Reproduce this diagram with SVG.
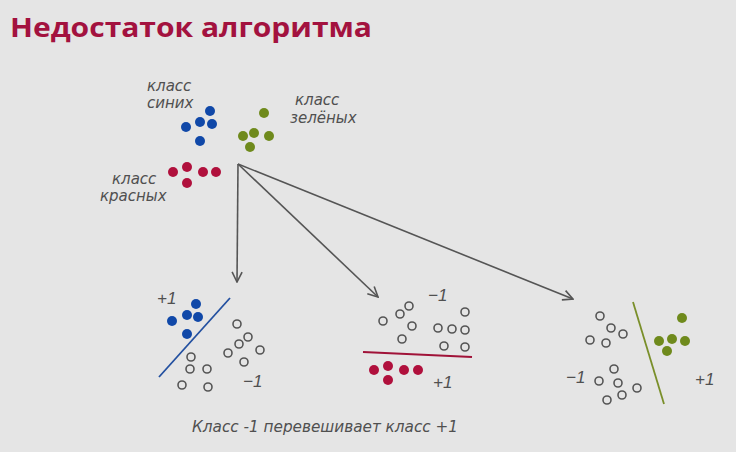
<svg xmlns="http://www.w3.org/2000/svg" width="736" height="452" viewBox="0 0 736 452">
  <style>
    .title { font-family: "Open Sans", "Liberation Sans", sans-serif; font-weight: bold; font-size: 26px; fill: #a3123f; }
    .hand { font-family: "DejaVu Sans", "Liberation Sans", sans-serif; font-style: italic; font-size: 15px; fill: #505050; }
    .num { font-family: "Liberation Sans", sans-serif; font-style: italic; font-size: 17px; fill: #505050; }
    .blue { fill: #1048a8; }
    .green { fill: #6f8a1c; }
    .red { fill: #b0103c; }
    .hollow { fill: none; stroke: #555; stroke-width: 1.6; }
    .conn { stroke: #555; stroke-width: 1.6; fill: none; }
  </style>
  <defs>
    <marker id="vhead" viewBox="0 0 12 12" refX="11" refY="6" markerWidth="12" markerHeight="12" markerUnits="userSpaceOnUse" orient="auto">
      <polyline points="1,1 11,6 1,11" fill="none" stroke="#555" stroke-width="1.6"/>
    </marker>
  </defs>
  <rect width="736" height="452" fill="#e5e5e5"/>

  <text class="title" x="10" y="37" textLength="362" lengthAdjust="spacingAndGlyphs">Недостаток алгоритма</text>

  <!-- source classes -->
  <g id="blue-class">
    <text class="hand" x="147" y="91">класс</text>
    <text class="hand" x="147" y="108">синих</text>
    <circle class="blue" cx="210" cy="111" r="5"/>
    <circle class="blue" cx="186" cy="127" r="5"/>
    <circle class="blue" cx="200" cy="122" r="5"/>
    <circle class="blue" cx="212" cy="124" r="5"/>
    <circle class="blue" cx="200" cy="141" r="5"/>
  </g>
  <g id="green-class">
    <text class="hand" x="295" y="105">класс</text>
    <text class="hand" x="290" y="123">зелёных</text>
    <circle class="green" cx="264" cy="113" r="5"/>
    <circle class="green" cx="243" cy="136" r="5"/>
    <circle class="green" cx="254" cy="133" r="5"/>
    <circle class="green" cx="269" cy="136" r="5"/>
    <circle class="green" cx="250" cy="147" r="5"/>
  </g>
  <g id="red-class">
    <text class="hand" x="112" y="184">класс</text>
    <text class="hand" x="100" y="201">красных</text>
    <circle class="red" cx="173" cy="172" r="5"/>
    <circle class="red" cx="187" cy="167" r="5"/>
    <circle class="red" cx="203" cy="172" r="5"/>
    <circle class="red" cx="216" cy="172" r="5"/>
    <circle class="red" cx="187" cy="183" r="5"/>
  </g>

  <!-- connectors -->
  <g id="connectors">
    <line class="conn" x1="238" y1="164" x2="237" y2="282" marker-end="url(#vhead)"/>
    <line class="conn" x1="238" y1="164" x2="378" y2="297" marker-end="url(#vhead)"/>
    <line class="conn" x1="238" y1="164" x2="573" y2="299" marker-end="url(#vhead)"/>
  </g>

  <!-- blue vs rest -->
  <g id="blue-vs-rest">
    <text class="num" x="157" y="304">+1</text>
    <circle class="blue" cx="196" cy="304" r="5"/>
    <circle class="blue" cx="172" cy="321" r="5"/>
    <circle class="blue" cx="187" cy="315" r="5"/>
    <circle class="blue" cx="198" cy="317" r="5"/>
    <circle class="blue" cx="187" cy="334" r="5"/>
    <line x1="159" y1="377" x2="230" y2="298" stroke="#2350a0" stroke-width="1.8"/>
    <circle class="hollow" cx="237" cy="324" r="4"/>
    <circle class="hollow" cx="248" cy="337" r="4"/>
    <circle class="hollow" cx="239" cy="344" r="4"/>
    <circle class="hollow" cx="228" cy="353" r="4"/>
    <circle class="hollow" cx="260" cy="350" r="4"/>
    <circle class="hollow" cx="244" cy="362" r="4"/>
    <circle class="hollow" cx="191" cy="357" r="4"/>
    <circle class="hollow" cx="190" cy="369" r="4"/>
    <circle class="hollow" cx="207" cy="369" r="4"/>
    <circle class="hollow" cx="182" cy="385" r="4"/>
    <circle class="hollow" cx="208" cy="387" r="4"/>
    <text class="num" x="243" y="387">−1</text>
  </g>

  <!-- red vs rest -->
  <g id="red-vs-rest">
    <text class="num" x="428" y="301">−1</text>
    <circle class="hollow" cx="409" cy="306" r="4"/>
    <circle class="hollow" cx="400" cy="314" r="4"/>
    <circle class="hollow" cx="383" cy="321" r="4"/>
    <circle class="hollow" cx="412" cy="326" r="4"/>
    <circle class="hollow" cx="402" cy="339" r="4"/>
    <circle class="hollow" cx="465" cy="312" r="4"/>
    <circle class="hollow" cx="438" cy="328" r="4"/>
    <circle class="hollow" cx="452" cy="329" r="4"/>
    <circle class="hollow" cx="465" cy="330" r="4"/>
    <circle class="hollow" cx="444" cy="346" r="4"/>
    <circle class="hollow" cx="465" cy="347" r="4"/>
    <line x1="363" y1="352" x2="472" y2="357" stroke="#a01238" stroke-width="1.8"/>
    <circle class="red" cx="374" cy="370" r="5"/>
    <circle class="red" cx="388" cy="366" r="5"/>
    <circle class="red" cx="404" cy="370" r="5"/>
    <circle class="red" cx="418" cy="370" r="5"/>
    <circle class="red" cx="388" cy="380" r="5"/>
    <text class="num" x="433" y="388">+1</text>
  </g>

  <!-- green vs rest -->
  <g id="green-vs-rest">
    <circle class="hollow" cx="600" cy="316" r="4"/>
    <circle class="hollow" cx="611" cy="328" r="4"/>
    <circle class="hollow" cx="623" cy="334" r="4"/>
    <circle class="hollow" cx="590" cy="340" r="4"/>
    <circle class="hollow" cx="606" cy="343" r="4"/>
    <circle class="hollow" cx="614" cy="369" r="4"/>
    <circle class="hollow" cx="599" cy="381" r="4"/>
    <circle class="hollow" cx="618" cy="383" r="4"/>
    <circle class="hollow" cx="637" cy="388" r="4"/>
    <circle class="hollow" cx="622" cy="395" r="4"/>
    <circle class="hollow" cx="607" cy="400" r="4"/>
    <text class="num" x="566" y="383">−1</text>
    <line x1="633" y1="302" x2="664" y2="404" stroke="#7a8f2a" stroke-width="1.8"/>
    <circle class="green" cx="682" cy="318" r="5"/>
    <circle class="green" cx="659" cy="341" r="5"/>
    <circle class="green" cx="672" cy="339" r="5"/>
    <circle class="green" cx="685" cy="341" r="5"/>
    <circle class="green" cx="667" cy="351" r="5"/>
    <text class="num" x="695" y="385">+1</text>
  </g>

  <text class="hand" x="192" y="432" font-size="17" textLength="266" lengthAdjust="spacingAndGlyphs">Класс -1 перевешивает класс +1</text>
</svg>
